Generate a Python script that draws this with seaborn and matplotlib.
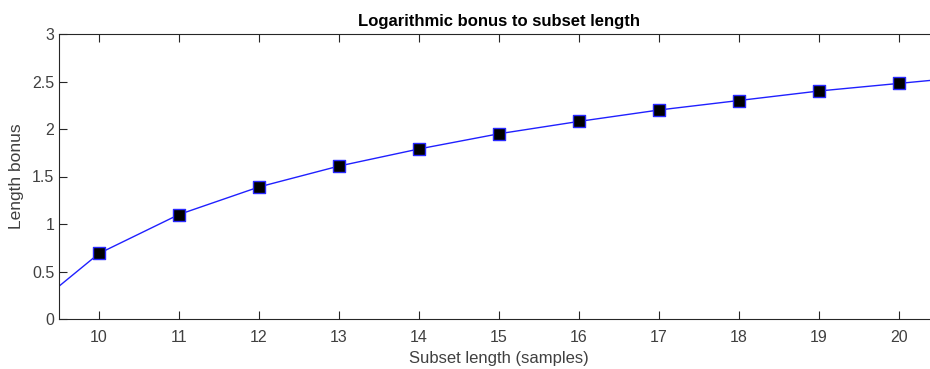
import matplotlib
matplotlib.use("Agg")
import matplotlib.pyplot as plt
import seaborn as sns
import pandas as pd

# Curve samples (subset length vs. bonus)
curve_x = [9, 10, 11, 12, 13, 14, 15, 16, 17, 18, 19, 20, 21]
curve_y = [0.00, 0.69, 1.10, 1.39, 1.61, 1.79, 1.95, 2.08, 2.20, 2.30, 2.40, 2.48, 2.56]

# Marked subset lengths
marker_x = [10, 11, 12, 13, 14, 15, 16, 17, 18, 19, 20]
marker_y = [0.69, 1.10, 1.39, 1.61, 1.79, 1.95, 2.08, 2.20, 2.30, 2.40, 2.48]

x_ticks = [10, 11, 12, 13, 14, 15, 16, 17, 18, 19, 20]
y_ticks = [0, 0.5, 1, 1.5, 2, 2.5, 3]
y_tick_labels = ["0", "0.5", "1", "1.5", "2", "2.5", "3"]

sns.set_style("white")
plt.rcParams["font.family"] = ["Liberation Sans", "DejaVu Sans"]

W, H = 930, 369
fig = plt.figure(figsize=(W / 100, H / 100), dpi=100)
ax = fig.add_axes([59 / W, 1 - 319 / H, 880 / W, 285 / H])

curve = pd.DataFrame({"x": curve_x, "y": curve_y})
marks = pd.DataFrame({"x": marker_x, "y": marker_y})

sns.lineplot(data=curve, x="x", y="y", ax=ax, color="#2020ff", linewidth=1.0)
sns.scatterplot(data=marks, x="x", y="y", ax=ax, marker="s", s=72,
                color="black", edgecolor="#2a2aff", linewidth=1.0, zorder=3)

ax.set_xlim(9.5, 20.5)
ax.set_ylim(0, 3)
ax.set_xticks(x_ticks)
ax.set_yticks(y_ticks)
ax.set_yticklabels(y_tick_labels)

tick_color = "#262626"
text_color = "#404040"
ax.tick_params(direction="in", length=6, width=0.8, colors=tick_color,
               labelsize=11.5, top=True, right=True, bottom=True, left=True,
               labelcolor=text_color)
ax.tick_params(axis="x", pad=8)
for side in ["left", "right", "top", "bottom"]:
    ax.spines[side].set_visible(True)
    ax.spines[side].set_color(tick_color)
    ax.spines[side].set_linewidth(0.8)

ax.set_xlabel("Subset length (samples)", fontsize=12, color=text_color, labelpad=4)
ax.set_ylabel("Length bonus", fontsize=12.5, color=text_color, labelpad=6)
ax.set_title("Logarithmic bonus to subset length", fontsize=12, fontweight="bold",
             color="black", pad=6)

fig.savefig("out.png", dpi=100)
